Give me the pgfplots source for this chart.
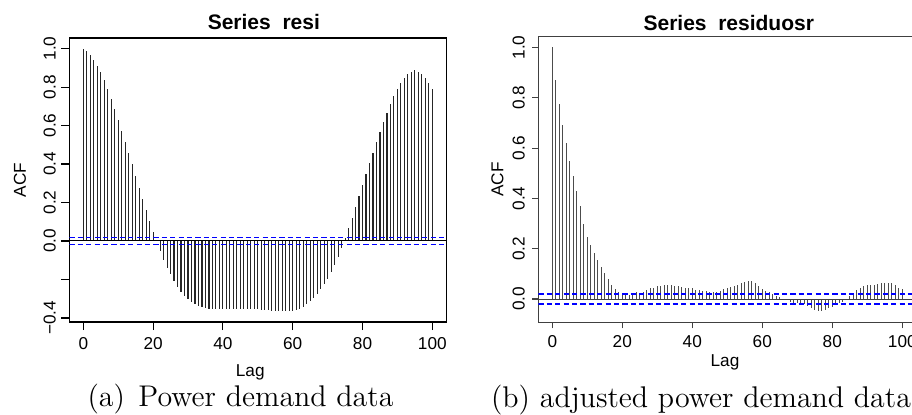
\documentclass[border=0pt]{standalone}
\usepackage{fontspec}
\usepackage{pgfplots}
\usepackage{pgfplotstable}
\pgfplotsset{compat=1.18}
\newfontfamily\arial{Liberation Sans}

\pgfplotstableread{
lag acf
0 1.000
1 0.986
2 0.969
3 0.943
4 0.911
5 0.877
6 0.835
7 0.790
8 0.740
9 0.686
10 0.630
11 0.572
12 0.515
13 0.456
14 0.398
15 0.337
16 0.276
17 0.217
18 0.160
19 0.102
20 0.048
21 0.006
22 -0.053
23 -0.098
24 -0.138
25 -0.174
26 -0.208
27 -0.238
28 -0.264
29 -0.286
30 -0.304
31 -0.318
32 -0.328
33 -0.336
34 -0.343
35 -0.348
36 -0.352
37 -0.354
38 -0.355
39 -0.355
40 -0.355
41 -0.355
42 -0.354
43 -0.354
44 -0.354
45 -0.353
46 -0.353
47 -0.353
48 -0.353
49 -0.354
50 -0.355
51 -0.357
52 -0.359
53 -0.361
54 -0.363
55 -0.365
56 -0.366
57 -0.366
58 -0.366
59 -0.365
60 -0.363
61 -0.359
62 -0.352
63 -0.342
64 -0.329
65 -0.313
66 -0.294
67 -0.273
68 -0.250
69 -0.226
70 -0.199
71 -0.163
72 -0.125
73 -0.082
74 -0.036
75 0.014
76 0.068
77 0.122
78 0.177
79 0.233
80 0.290
81 0.347
82 0.403
83 0.458
84 0.514
85 0.566
86 0.618
87 0.667
88 0.714
89 0.753
90 0.788
91 0.819
92 0.845
93 0.866
94 0.880
95 0.887
96 0.880
97 0.866
98 0.845
99 0.819
100 0.788
}\leftdata

\pgfplotstableread{
lag acf
0 1.000
1 0.871
2 0.776
3 0.692
4 0.619
5 0.550
6 0.490
7 0.430
8 0.370
9 0.300
10 0.248
11 0.213
12 0.184
13 0.154
14 0.127
15 0.102
16 0.080
17 0.057
18 0.040
19 0.028
20 0.020
21 0.015
22 0.015
23 0.021
24 0.026
25 0.024
26 0.027
27 0.034
28 0.042
29 0.045
30 0.050
31 0.052
32 0.055
33 0.055
34 0.055
35 0.053
36 0.050
37 0.046
38 0.043
39 0.043
40 0.042
41 0.037
42 0.034
43 0.030
44 0.030
45 0.029
46 0.028
47 0.029
48 0.033
49 0.038
50 0.042
51 0.046
52 0.050
53 0.055
54 0.062
55 0.069
56 0.072
57 0.071
58 0.064
59 0.050
60 0.040
61 0.032
62 0.026
63 0.020
64 0.013
65 0.007
66 0.001
67 -0.004
68 -0.012
69 -0.016
70 -0.017
71 -0.017
72 -0.020
73 -0.028
74 -0.036
75 -0.043
76 -0.047
77 -0.047
78 -0.043
79 -0.037
80 -0.031
81 -0.024
82 -0.017
83 -0.010
84 -0.002
85 0.010
86 0.023
87 0.035
88 0.045
89 0.052
90 0.054
91 0.055
92 0.056
93 0.060
94 0.064
95 0.065
96 0.065
97 0.062
98 0.056
99 0.044
100 0.039
}\rightdata

\pgfplotsset{
  acfaxis/.style={
    scale only axis, anchor=south west,
    xmin=-4, xmax=104,
    tick align=outside, tick pos=left,
    xtick={0,20,40,60,80,100},
    xticklabels={0,20,40,60,80,100},
    font=\arial\fontsize{8.6}{10}\selectfont,
    tick label style={inner sep=0pt, font=\arial\fontsize{8.6}{10}\selectfont},
    xticklabel style={anchor=north},
    yticklabel style={rotate=90, anchor=south},
    every axis title/.style={at={(0.5,1)}, anchor=center, font=\arial\bfseries\fontsize{10.5}{12}\selectfont},
    xlabel style={anchor=center, font=\arial\fontsize{8.6}{10}\selectfont},
    ylabel style={anchor=center, font=\arial\fontsize{8.6}{10}\selectfont},
    xlabel={Lag}, ylabel={ACF},
  },
  comb/.style={ycomb, mark=none, line width=0.55pt},
  ci/.style={blue, line width=0.55pt, dash pattern=on 2.6pt off 1.6pt},
}

\begin{document}
\begin{tikzpicture}
\useasboundingbox (0,0) rectangle (456pt,207pt);
\clip (0,0) rectangle (456pt,207pt);

\begin{axis}[acfaxis,
  at={(34.67pt,46pt)}, width=188.48pt, height=142pt,
  ymin=-0.421, ymax=1.055,
  ytick={-0.4,-0.2,0,0.2,0.4,0.6,0.8,1},
  yticklabels={{−0.4},{},{0.0},{0.2},{0.4},{0.6},{0.8},{1.0}},
  major tick length=4pt,
  axis line style={line width=0.55pt, black},
  tick style={line width=0.55pt, black},
  xticklabel shift=3.7pt, yticklabel shift=2.6pt,
  title={Series\ \ resi},
  title style={at={(axis description cs:0.516,1.0577)}},
  xlabel style={at={(axis description cs:0.48,-0.1775)}},
  ylabel style={at={(axis description cs:-0.1309,0.5)}},
]
\addplot[comb, draw=black!85] table[x=lag, y=acf] {\leftdata};
\addplot[black, line width=0.5pt] coordinates {(-4,0) (104,0)};
\addplot[ci] coordinates {(-4,0.019) (104,0.019)};
\addplot[ci] coordinates {(-4,-0.019) (104,-0.019)};
\end{axis}

\begin{axis}[acfaxis,
  at={(269.15pt,45.85pt)}, width=189pt, height=142.8pt,
  ymin=-0.0926, ymax=1.0429,
  ytick={0,0.2,0.4,0.6,0.8,1},
  yticklabels={{0.0},{0.2},{0.4},{0.6},{0.8},{1.0}},
  major tick length=3pt,
  axis line style={line width=0.55pt, black!75},
  tick style={line width=0.55pt, black!75},
  xticklabel shift=3.2pt, yticklabel shift=3.6pt,
  title={Series\ \ residuosr},
  title style={at={(axis description cs:0.504,1.049)}},
  xlabel style={at={(axis description cs:0.494,-0.1418)}},
  ylabel style={at={(axis description cs:-0.1079,0.5)}},
]
\addplot[comb, draw=black!70] table[x=lag, y=acf] {\rightdata};
\addplot[black!75, line width=0.5pt] coordinates {(-4,0) (104,0)};
\addplot[ci] coordinates {(-4,0.02) (104,0.02)};
\addplot[ci] coordinates {(-4,-0.02) (104,-0.02)};
\end{axis}

\node[anchor=base, inner sep=0pt, font=\fontsize{14.95}{18}\selectfont] at (120.25pt,4pt) {(a)\hspace{0.45em}Power demand data};
\node[anchor=base, inner sep=0pt, font=\fontsize{14.95}{18}\selectfont] at (350.5pt,3.5pt) {(b) adjusted power demand data};
\end{tikzpicture}
\end{document}
